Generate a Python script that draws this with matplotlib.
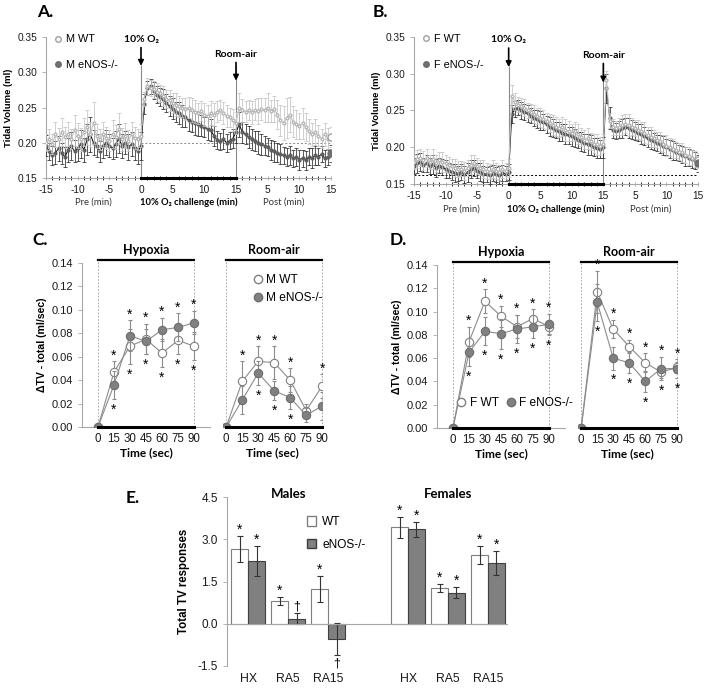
import numpy as np
import matplotlib
matplotlib.use('Agg')
import matplotlib.pyplot as plt
from matplotlib.lines import Line2D
from matplotlib.patches import Patch

plt.rcParams['font.family'] = ['Liberation Sans', 'DejaVu Sans']
CAL = ['Lato', 'DejaVu Sans']
GRID = '#a6a6a6'

# ---------------- A / B : tidal volume time course (every 0.5 min) ----------------
t_min = np.arange(-15, 30.5, 0.5)

m_wt = ([.200, .205, .198, .212, .205, .215, .208, .213, .205, .218, .210, .205, .215, .222, .212, .228,
         .210, .205, .212, .207, .203, .212, .208, .220, .205, .210, .203, .212, .207, .205, .210] +
        [.262, .280, .278, .276, .272, .270, .266, .262, .260, .256, .254, .252, .250, .248, .250,
         .246, .244, .242, .245, .240, .238, .242, .240, .244, .246, .242, .238, .236, .232, .228] +
        [.250, .246, .244, .246, .243, .247, .245, .248, .246, .250, .245, .248, .240, .232, .228,
         .235, .240, .230, .226, .224, .228, .222, .216, .212, .215, .210, .206, .212, .206, .208])
m_wt_err = ([.012, .015, .014, .018, .016, .020, .015, .017, .014, .022, .018, .016, .020, .025, .018, .030,
             .017, .015, .018, .016, .015, .020, .017, .022, .016, .018, .015, .017, .016, .015, .016] +
            [.010, .012, .011, .012, .013, .012, .014, .013, .015, .014, .016, .015, .014, .016, .015,
             .017, .016, .015, .014, .016, .015, .017, .016, .015, .014, .016, .015, .014, .016, .015] +
            [.020, .016, .015, .014, .016, .015, .018, .016, .017, .020, .016, .018, .020, .022, .024,
             .028, .025, .022, .020, .018, .022, .020, .018, .016, .018, .015, .014, .016, .015, .014])
m_ko = ([.196, .188, .182, .186, .192, .185, .180, .190, .195, .188, .192, .198, .190, .205, .212, .200,
         .196, .188, .195, .200, .196, .192, .198, .206, .196, .200, .194, .198, .192, .188, .195] +
        [.255, .278, .280, .274, .268, .265, .262, .256, .252, .248, .244, .242, .238, .236, .232,
         .230, .228, .226, .224, .222, .220, .218, .210, .204, .202, .205, .200, .203, .206, .215] +
        [.226, .215, .212, .208, .205, .203, .200, .198, .196, .194, .190, .188, .186, .184, .182,
         .180, .182, .178, .180, .176, .178, .175, .180, .178, .182, .180, .184, .178, .180, .185])
m_ko_err = ([.015, .012, .014, .016, .018, .015, .014, .017, .020, .016, .018, .020, .017, .022, .025, .018,
             .016, .015, .017, .018, .016, .015, .018, .020, .017, .016, .018, .017, .016, .018, .020] +
            [.014, .010, .011, .012, .012, .013, .014, .013, .014, .015, .014, .016, .015, .014, .016,
             .015, .017, .016, .015, .014, .016, .015, .014, .013, .012, .014, .013, .012, .014, .015] +
            [.018, .015, .014, .016, .015, .014, .016, .015, .014, .013, .014, .015, .013, .014, .012,
             .013, .014, .012, .013, .014, .012, .013, .012, .014, .013, .012, .011, .012, .011, .012])

f_wt = ([.180, .184, .186, .182, .185, .180, .184, .178, .182, .180, .178, .176, .174, .172, .170, .171,
         .168, .172, .176, .178, .174, .172, .170, .168, .167, .170, .168, .166, .170, .168, .172] +
        [.270, .262, .258, .256, .254, .250, .248, .245, .242, .240, .238, .236, .233, .230, .228,
         .226, .228, .224, .222, .220, .222, .218, .214, .210, .212, .208, .205, .204, .202, .205] +
        [.292, .236, .228, .226, .228, .230, .232, .230, .228, .226, .224, .222, .220, .216, .214,
         .212, .210, .208, .205, .202, .200, .198, .196, .194, .193, .190, .188, .186, .184, .182])
f_wt_err = ([.010, .012, .011, .013, .012, .010, .014, .012, .011, .013, .012, .011, .010, .012, .011, .010,
             .012, .011, .013, .012, .011, .010, .012, .011, .010, .012, .011, .010, .012, .011, .012] +
            [.015, .012, .010, .011, .012, .010, .011, .012, .011, .013, .012, .011, .012, .014, .013,
             .012, .013, .015, .014, .012, .013, .014, .012, .013, .014, .012, .013, .014, .012, .013] +
            [.012, .010, .011, .010, .012, .014, .013, .015, .012, .011, .013, .012, .014, .012, .013,
             .012, .011, .013, .012, .014, .012, .013, .011, .012, .013, .011, .012, .010, .011, .010])
f_ko = ([.175, .178, .180, .176, .178, .174, .177, .172, .175, .173, .170, .168, .166, .165, .164, .166,
         .163, .166, .170, .172, .168, .166, .164, .163, .162, .165, .163, .162, .165, .164, .166] +
        [.245, .252, .254, .250, .248, .246, .243, .240, .238, .236, .234, .231, .228, .226, .224,
         .222, .220, .218, .216, .215, .213, .210, .208, .206, .204, .203, .200, .199, .198, .200] +
        [.280, .240, .224, .222, .224, .226, .228, .226, .224, .222, .220, .218, .215, .212, .210,
         .208, .206, .204, .202, .200, .198, .196, .194, .192, .190, .188, .186, .184, .182, .178])
f_ko_err = ([.011, .013, .012, .010, .012, .011, .013, .012, .010, .011, .012, .010, .011, .012, .010, .011,
             .012, .013, .012, .011, .010, .012, .011, .010, .012, .011, .010, .012, .011, .010, .011] +
            [.012, .011, .010, .012, .011, .012, .010, .011, .012, .013, .011, .012, .013, .012, .011,
             .013, .012, .014, .012, .013, .012, .011, .013, .012, .014, .013, .012, .013, .012, .014] +
            [.020, .015, .012, .011, .012, .013, .012, .014, .013, .012, .011, .013, .012, .011, .013,
             .012, .011, .012, .013, .011, .012, .013, .012, .011, .012, .013, .011, .012, .011, .012])

min_ticks = [-15, -10, -5, 0, 5, 10, 15, 20, 25, 30]
min_labels = ['-15', '-10', '-5', '0', '5', '10', '15', '5', '10', '15']

# ---------------- C / D : delta TV (sec) ----------------
t_sec = [0, 15, 30, 45, 60, 75, 90]
c_hx_wt = [0, .047, .069, .075, .063, .074, .069]
c_hx_wt_e = [0, .009, .015, .013, .012, .012, .012]
c_hx_ko = [0, .036, .078, .073, .083, .085, .089]
c_hx_ko_e = [0, .012, .013, .011, .010, .012, .010]
c_ra_wt = [0, .039, .056, .055, .040, .014, .035]
c_ra_wt_e = [0, .017, .013, .014, .010, .006, .010]
c_ra_ko = [0, .023, .046, .031, .025, .010, .018]
c_ra_ko_e = [0, .012, .010, .008, .010, .006, .012]
c_hx_up = [0, 1, 1, 1, 1, 1, 1]
c_hx_lo = [0, 1, 1, 1, 1, 1, 1]
c_ra_up = [0, 1, 1, 1, 1, 0, 1]
c_ra_lo = [0, 0, 1, 1, 1, 0, 0]

d_hx_wt = [0, .074, .109, .096, .087, .094, .087]
d_hx_wt_e = [0, .013, .010, .009, .010, .008, .006]
d_hx_ko = [0, .065, .083, .081, .085, .087, .089]
d_hx_ko_e = [0, .012, .012, .013, .012, .010, .009]
d_ra_wt = [0, .117, .085, .070, .056, .048, .052]
d_ra_wt_e = [0, .018, .008, .006, .008, .005, .005]
d_ra_ko = [0, .108, .060, .056, .040, .051, .051]
d_ra_ko_e = [0, .016, .010, .009, .009, .010, .008]
d_hx_up = [0, 1, 1, 1, 1, 1, 1]
d_hx_lo = [0, 1, 1, 1, 1, 1, 1]
d_ra_up = [0, 1, 1, 1, 1, 1, 1]
d_ra_lo = [0, 1, 1, 1, 1, 1, 1]

# ---------------- E : total TV responses ----------------
e_cats = ['HX', 'RA5', 'RA15', 'HX', 'RA5', 'RA15']
e_pos = [0, 1, 2, 4, 5, 6]
e_wt = [2.65, 0.80, 1.23, 3.42, 1.28, 2.43]
e_wt_err = [0.45, 0.14, 0.46, 0.38, 0.14, 0.32]
e_ko = [2.22, 0.18, -0.54, 3.35, 1.10, 2.15]
e_ko_err = [0.53, 0.20, 0.56, 0.27, 0.19, 0.43]
e_wt_mark = ['*', '*', '*', '*', '*', '*']
e_ko_mark = ['*', '\u2020', '', '*', '*', '*']
e_ko_mark_below = ['', '', '\u2020', '', '', '']

W, H = 709, 691
fig = plt.figure(figsize=(W / 100, H / 100), dpi=100)


def px_axes(x0, y0, x1, y1):
    return fig.add_axes([x0 / W, 1 - y1 / H, (x1 - x0) / W, (y1 - y0) / H])


def clean(ax):
    ax.spines['top'].set_visible(False)
    ax.spines['right'].set_visible(False)
    ax.spines['left'].set_color(GRID)
    ax.spines['bottom'].set_color(GRID)
    ax.tick_params(colors=GRID, labelcolor='#1a1a1a')


def time_course(ax, wt, wt_e, ko, ko_e, names, base_y, base_style):
    clean(ax)
    ax.errorbar(t_min, ko, yerr=ko_e, color='black', lw=0.7, marker='o', ms=2.0,
                mfc='#5f5f5f', mec='#5f5f5f', ecolor='#2a2a2a', elinewidth=0.55,
                capsize=1.3, capthick=0.55, zorder=3)
    ax.errorbar(t_min, wt, yerr=wt_e, color='#c4c4c4', lw=0.8, marker='o', ms=2.0,
                mfc='white', mec='#b8b8b8', ecolor='#c4c4c4', elinewidth=0.55,
                capsize=1.3, capthick=0.55, zorder=4)
    # end markers
    ax.plot(t_min[-1], wt[-1], 'o', ms=5, mfc='white', mec='#a0a0a0', zorder=5)
    ax.plot(t_min[-1], ko[-1], 'o', ms=5, mfc='#6f6f6f', mec='#6f6f6f', zorder=5)
    ax.set_xlim(-15, 30)
    ax.set_ylim(0.15, 0.35)
    ax.set_yticks([0.15, 0.20, 0.25, 0.30, 0.35])
    ax.set_yticklabels(['0.15', '0.20', '0.25', '0.30', '0.35'], fontsize=7.3)
    ax.set_xticks(min_ticks)
    ax.set_xticklabels(min_labels, fontsize=7.3)
    ax.set_xticks(np.arange(-15, 31, 1), minor=True)
    ax.tick_params(axis='x', which='both', direction='inout', length=3, width=0.6)
    ax.tick_params(axis='y', length=3, width=0.6)
    ax.set_ylabel('Tidal Volume (ml)', fontsize=6.8, fontweight='bold')
    # event lines
    ax.vlines([0, 15], 0.15, 0.31, colors='#8a8a8a', lw=0.8, zorder=2)
    ax.plot([0, 15], [0.15, 0.15], color='black', lw=2.2, clip_on=False, zorder=6)
    ax.plot(base_style[0], [base_y, base_y], color=base_style[1], lw=0.7,
            ls=(0, (2, 2)), zorder=1)
    for x, txt, ytxt, ytip in [(0, '10% O\u2082', 0.346, 0.309), (15, 'Room-air', 0.325, 0.288)]:
        ax.annotate('', xy=(x, ytip), xytext=(x, ytip + 0.026),
                    arrowprops=dict(arrowstyle='-|>', color='black', lw=1.2,
                                    mutation_scale=8, shrinkA=0, shrinkB=0))
        ax.text(x, ytxt, txt, ha='center', va='center', fontsize=7.5,
                fontweight='bold', family=CAL)
    handles = [Line2D([], [], ls='none', marker='o', ms=4.0, mfc='white', mec='#a0a0a0'),
               Line2D([], [], ls='none', marker='o', ms=4.0, mfc='#6f6f6f', mec='#6f6f6f')]
    ax.legend(handles, names, loc='upper left', bbox_to_anchor=(0.0, 1.065), frameon=False,
              fontsize=7.8, handletextpad=0.2, labelspacing=1.45, handlelength=1.0,
              borderaxespad=0.2)
    trans = ax.get_xaxis_transform()
    ax.text(-7.5, -0.17, 'Pre (min)', transform=trans, ha='center', va='center',
            fontsize=6.8, family=CAL, color='#333333')
    ax.text(7.5, -0.17, '10% O\u2082 challenge (min)', transform=trans, ha='center',
            va='center', fontsize=6.8, fontweight='bold', family=CAL)
    ax.text(22.5, -0.17, 'Post (min)', transform=trans, ha='center', va='center',
            fontsize=6.8, family=CAL, color='#333333')


axA = px_axes(46, 37, 331, 178)
time_course(axA, m_wt, m_wt_err, m_ko, m_ko_err, ['M WT', 'M eNOS-/-'], 0.20,
            ([0, 30], '#8a8a8a'))
axA.yaxis.set_label_coords(-0.115, 0.5)
axB = px_axes(414, 37, 698, 184)
time_course(axB, f_wt, f_wt_err, f_ko, f_ko_err, ['F WT', 'F eNOS-/-'], 0.162,
            ([-15, 30], 'black'))
axB.yaxis.set_label_coords(-0.115, 0.5)


def sec_series(ax, wt, wt_e, ko, ko_e, up, lo, title):
    ax.errorbar(t_sec, wt, yerr=wt_e, color='#8c8c8c', lw=0.8, marker='o', ms=6,
                mfc='white', mec='#808080', mew=0.8, ecolor='#8c8c8c', elinewidth=0.8,
                capsize=1.5, capthick=0.8, zorder=3)
    ax.errorbar(t_sec, ko, yerr=ko_e, color='#8c8c8c', lw=0.8, marker='o', ms=6,
                mfc='#808080', mec='#6e6e6e', mew=0.8, ecolor='#8c8c8c', elinewidth=0.8,
                capsize=1.5, capthick=0.8, zorder=4)
    hi = np.maximum(np.add(wt, wt_e), np.add(ko, ko_e))
    low = np.minimum(np.subtract(wt, wt_e), np.subtract(ko, ko_e))
    for x, h, l, u, d in zip(t_sec, hi, low, up, lo):
        if u:
            ax.text(x, h + 0.005, '*', ha='center', va='center', fontsize=10)
        if d:
            ax.text(x, l - 0.009, '*', ha='center', va='center', fontsize=10)
    bar_y = 0.1428
    ax.plot([t_sec[0], t_sec[-1]], [bar_y, bar_y], color='black', lw=1.6, clip_on=False)
    ax.plot([t_sec[0], t_sec[-1]], [0, 0], color='black', lw=2.2, clip_on=False, zorder=5)
    ax.vlines([t_sec[0], t_sec[-1]], 0, bar_y, colors='#9a9a9a', lw=0.6,
              linestyles=(0, (2, 2)), clip_on=False)
    ax.text(np.mean([t_sec[0], t_sec[-1]]), 0.1515, title, ha='center', va='center',
            fontsize=9, fontweight='bold', family=CAL)
    ax.set_ylim(0, 0.14)
    ax.set_xticks(t_sec)
    ax.set_xticklabels([str(t) for t in t_sec], fontsize=8.3)
    ax.tick_params(axis='x', length=0, pad=4)
    ax.set_xlabel('Time (sec)', fontsize=8.6, fontweight='bold', family=CAL, labelpad=2)


def sec_panel(xl, xr, y0, y1, hx, ra, legend_names, legend_cfg):
    axl = px_axes(xl, y0, xl + 128, y1)
    clean(axl)
    sec_series(axl, *hx, 'Hypoxia')
    axl.set_xlim(-15, 105)
    axl.set_yticks(np.arange(0, 0.141, 0.02))
    axl.set_yticklabels(['%.2f' % v for v in np.arange(0, 0.141, 0.02)], fontsize=8)
    axl.tick_params(axis='y', length=3, width=0.6)
    axl.set_ylabel('\u0394TV - total (ml/sec)', fontsize=7.6, fontweight='bold')
    axl.yaxis.set_label_coords(-0.27, 0.5)
    axr = px_axes(xr, y0, xr + 99.2, y1)
    axr.patch.set_visible(False)
    clean(axr)
    axr.spines['left'].set_visible(False)
    axr.set_yticks([])
    sec_series(axr, *ra, 'Room-air')
    axr.set_xlim(-3, 90)
    handles = [Line2D([], [], ls='none', marker='o', ms=6, mfc='white', mec='#808080'),
               Line2D([], [], ls='none', marker='o', ms=6, mfc='#808080', mec='#6e6e6e')]
    target = axr if legend_cfg['ax'] == 'r' else axl
    leg = target.legend(handles, legend_names, frameon=False, fontsize=8.6,
                        handletextpad=0.1, handlelength=1.2, columnspacing=0.4,
                        **legend_cfg['kw'])
    leg.set_zorder(20)
    return axl, axr


sec_panel(82, 223, 263, 427,
          (c_hx_wt, c_hx_wt_e, c_hx_ko, c_hx_ko_e, c_hx_up, c_hx_lo),
          (c_ra_wt, c_ra_wt_e, c_ra_ko, c_ra_ko_e, c_ra_up, c_ra_lo),
          ['M WT', 'M eNOS-/-'],
          {'ax': 'r', 'kw': dict(loc='upper left', bbox_to_anchor=(0.17, 1.0),
                                 labelspacing=0.55)})
sec_panel(437, 578, 265, 428,
          (d_hx_wt, d_hx_wt_e, d_hx_ko, d_hx_ko_e, d_hx_up, d_hx_lo),
          (d_ra_wt, d_ra_wt_e, d_ra_ko, d_ra_ko_e, d_ra_up, d_ra_lo),
          ['F WT', 'F eNOS-/-'],
          {'ax': 'l', 'kw': dict(loc='lower left', bbox_to_anchor=(0.05, 0.05),
                                 ncol=2)})

# ---------------- panel E ----------------
axE = px_axes(227, 497, 508, 666)
clean(axE)
bw = 0.42
pos = np.array(e_pos, dtype=float)
axE.bar(pos - bw / 2, e_wt, bw, color='white', edgecolor='#7f7f7f', lw=0.8,
        yerr=e_wt_err, error_kw=dict(ecolor='#333333', elinewidth=0.8, capsize=2,
                                     capthick=0.8))
axE.bar(pos + bw / 2, e_ko, bw, color='#808080', edgecolor='#404040', lw=0.8,
        yerr=e_ko_err, error_kw=dict(ecolor='#333333', elinewidth=0.8, capsize=2,
                                     capthick=0.8))
for x, v, e, m in zip(pos - bw / 2, e_wt, e_wt_err, e_wt_mark):
    if m:
        axE.text(x, v + e + 0.22, m, ha='center', va='center', fontsize=10)
for x, v, e, m, mb in zip(pos + bw / 2, e_ko, e_ko_err, e_ko_mark, e_ko_mark_below):
    top = max(v, 0) + e
    if m:
        axE.text(x, top + 0.22, m, ha='center', va='center', fontsize=10 if m == '*' else 9)
    if mb:
        axE.text(x, min(v, 0) - e - 0.32, mb, ha='center', va='center', fontsize=9)
axE.axhline(0, color=GRID, lw=0.8)
axE.spines['bottom'].set_visible(False)
axE.set_xlim(-0.53, 6.5)
axE.set_ylim(-1.5, 4.5)
axE.set_yticks([-1.5, 0, 1.5, 3.0, 4.5])
axE.set_yticklabels(['-1.5', '0.0', '1.5', '3.0', '4.5'], fontsize=8.5)
axE.tick_params(axis='y', length=3, width=0.6)
axE.set_xticks(e_pos)
axE.set_xticklabels(e_cats, fontsize=8.8)
axE.tick_params(axis='x', length=0, pad=5)
axE.set_ylabel('Total TV responses', fontsize=8.3, fontweight='bold')
axE.yaxis.set_label_coords(-0.13, 0.5)
axE.text(1, 4.62, 'Males', ha='center', va='center', fontsize=9.5, fontweight='bold', family=CAL)
axE.text(5, 4.62, 'Females', ha='center', va='center', fontsize=9.5, fontweight='bold', family=CAL)
axE.legend([Patch(facecolor='white', edgecolor='#7f7f7f'),
            Patch(facecolor='#808080', edgecolor='#404040')], ['WT', 'eNOS-/-'],
           loc='upper left', bbox_to_anchor=(0.245, 0.95), frameon=False, fontsize=8.6,
           handlelength=0.8, handleheight=0.8, handletextpad=0.5, labelspacing=0.9)

# panel letters
for x, y, s in [(45, 12, 'A.'), (380, 12, 'B.'), (40, 240, 'C.'), (398, 240, 'D.'), (133, 498, 'E.')]:
    fig.text(x / W, 1 - y / H, s, ha='center', va='center', fontsize=12.5,
             fontweight='bold', family=CAL)

fig.savefig('out.png', dpi=100)
